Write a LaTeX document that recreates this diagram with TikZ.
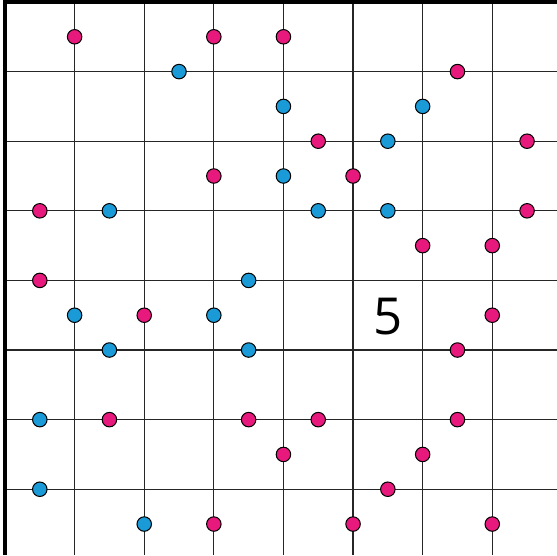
\documentclass[tikz,border=0pt]{standalone}
\usepackage{fontspec}
\newfontfamily\digitfont{Open Sans}
\definecolor{dotred}{RGB}{232,25,125}
\definecolor{dotblue}{RGB}{26,154,214}
\definecolor{cutred}{RGB}{176,20,20}
\tikzset{
  gridline/.style={line width=0.6pt,black!85},
  reddot/.style={circle,draw=black,line width=0.5pt,fill=dotred,inner sep=0pt,minimum size=0.25cm},
  bluedot/.style={circle,draw=black,line width=0.5pt,fill=dotblue,inner sep=0pt,minimum size=0.25cm}
}
\begin{document}
\begin{tikzpicture}[x=0.6cm,y=-0.6cm]
\useasboundingbox (-0.144,-0.057) rectangle (15.86,15.89);
\clip (-0.144,-0.057) rectangle (15.86,15.89);

% cut-off marks at the top
\fill[cutred] (2.16,-0.2) rectangle (2.4,0);
\fill[cutred] (3.25,-0.2) rectangle (3.45,0);

\foreach \k in {2,4,...,14}{
    \draw[gridline] (\k,0)--(\k,15.89);
    \draw[gridline] (0,\k)--(15.86,\k);
}
\draw[line width=1.5pt] (0,15.89)--(0,0)--(15.86,0);

\foreach \x/\y [count=\i] in {2/1,6/1,8/1,13/2,9/4,15/4,6/5,10/5,1/6,15/6,12/7,14/7,1/8,4/9,14/9,13/10,3/12,7/12,9/12,13/12,8/13,12/13,11/14,6/15,10/15,14/15}{
    \node[reddot] (r\i) at (\x,\y) {};
}
\foreach \x/\y [count=\i] in {5/2,8/3,12/3,11/4,8/5,3/6,9/6,11/6,7/8,2/9,6/9,3/10,7/10,1/12,1/14,4/15}{
    \node[bluedot] (b\i) at (\x,\y) {};
}

\node[font=\digitfont\fontsize{25}{25}\selectfont] (five) at (11,9.05) {5};
\end{tikzpicture}
\end{document}
